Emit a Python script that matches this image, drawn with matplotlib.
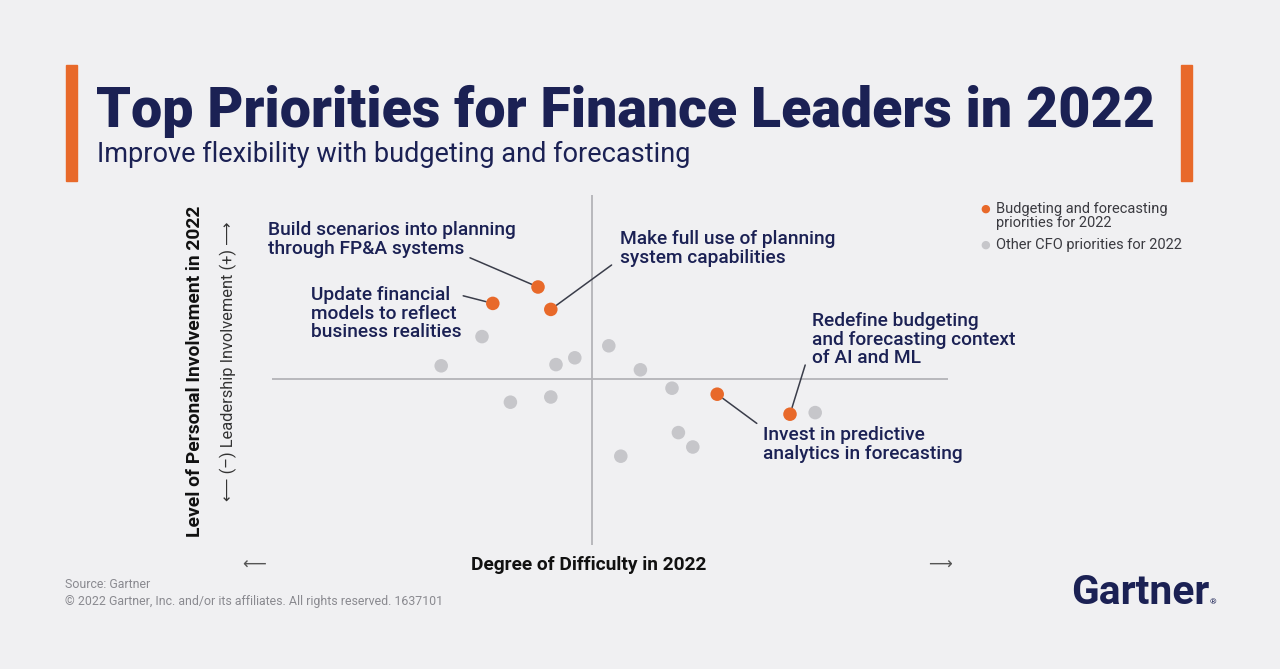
import numpy as np
import matplotlib.pyplot as plt

# --- data (difficulty on x, involvement on y, centre of chart = 0) ---
focus_x = [-1.35, -2.48, -1.03, 3.13, 4.95]
focus_y = [2.30, 1.89, 1.74, -0.38, -0.88]
focus_labels = ["Build scenarios into planning\nthrough FP&A systems",
                "Update financial\nmodels to reflect\nbusiness realities",
                "Make full use of planning\nsystem capabilities",
                "Invest in predictive\nanalytics in forecasting",
                "Redefine budgeting\nand forecasting context\nof AI and ML"]

other_x = [-2.75, -3.77, -0.90, -0.43, 0.42, 1.21, 2.00, -2.04, -1.03, 2.16, 2.52, 0.72, 5.58]
other_y = [1.06, 0.33, 0.36, 0.53, 0.83, 0.23, -0.23, -0.58, -0.45, -1.34, -1.70, -1.93, -0.84]

# label block position (left, middle) and leader line start
label_pos = [(-8.1, 3.48), (-7.03, 1.63), (0.70, 3.26), (4.28, -1.63), (5.50, 0.98)]
line_from = [(-3.05, 3.03), (-3.22, 2.08), (0.49, 2.85), (4.12, -1.11), (5.33, 0.35)]

BG = '#f0f0f2'
NAVY = '#1b2154'
ORANGE = '#e8692a'
GREY = '#c6c6ca'
FONT = ['Roboto', 'DejaVu Sans']

W, H = 1280, 669
def px(x, y):
    return x / W, 1 - y / H

fig = plt.figure(figsize=(12.8, 6.69), dpi=100, facecolor=BG)
ax = fig.add_axes([272 / W, 1 - 545 / H, 676 / W, 350 / H])
ax.set_facecolor(BG)
ax.set_xlim(-8.0, 8.9)
ax.set_ylim(-4.15, 4.6)
ax.axis('off')
ax.axhline(0, color='#b4b4b8', lw=1.3, zorder=1)
ax.axvline(0, color='#b4b4b8', lw=1.3, zorder=1)

ax.scatter(other_x, other_y, s=95, color=GREY, edgecolors='none', zorder=3)
ax.scatter(focus_x, focus_y, s=95, color=ORANGE, edgecolors='none', zorder=4)

for i in range(len(focus_x)):
    ax.annotate('', xy=(focus_x[i], focus_y[i]), xytext=line_from[i],
                arrowprops=dict(arrowstyle='-', color='#3a3d4a', lw=1.1,
                                shrinkA=0, shrinkB=5))
    ax.text(label_pos[i][0], label_pos[i][1], focus_labels[i], ha='left', va='center',
            fontsize=13.8, color=NAVY, family=FONT, fontweight='medium',
            linespacing=1.05, clip_on=False)

# orange side bars
fig.patches.append(plt.Rectangle(px(66, 181), 11 / W, 116 / H, color=ORANGE,
                                 transform=fig.transFigure))
fig.patches.append(plt.Rectangle(px(1181, 181), 11 / W, 116 / H, color=ORANGE,
                                 transform=fig.transFigure))

fig.text(*px(96, 127), "Top Priorities for Finance Leaders in 2022", ha='left',
         va='baseline', fontsize=40, fontweight='black', color=NAVY, family=FONT)
fig.text(*px(97, 162), "Improve flexibility with budgeting and forecasting", ha='left',
         va='baseline', fontsize=19.5, color=NAVY, family=FONT)

# legend
fig.text(*px(985, 209), "\u25CF", color=ORANGE, fontsize=8, ha='center', va='center')
fig.text(*px(996, 216), "Budgeting and forecasting\npriorities for 2022", ha='left',
         va='center', fontsize=10.5, color='#3a3a40', family=FONT, linespacing=1.0)
fig.text(*px(985, 245), "\u25CF", color=GREY, fontsize=8, ha='center', va='center')
fig.text(*px(996, 245), "Other CFO priorities for 2022", ha='left', va='center',
         fontsize=10.5, color='#3a3a40', family=FONT)

# axis titles
fig.text(*px(195, 371), "Level of Personal Involvement in 2022", rotation=90,
         ha='center', va='center', fontsize=13.9, fontweight='bold', color='#111',
         family=FONT)
fig.text(*px(228, 361), "\u27F5 (\u2013) Leadership Involvement (+) \u27F6", rotation=90,
         ha='center', va='center', fontsize=11.8, color='#333', family=FONT)
fig.text(*px(589, 565), "Degree of Difficulty in 2022", ha='center', va='center',
         fontsize=13.8, fontweight='bold', color='#111', family=FONT)
fig.text(*px(254, 565), "\u27F5", ha='center', va='center', fontsize=12, color='#555',
         family=['DejaVu Sans'])
fig.text(*px(940, 565), "\u27F6", ha='center', va='center', fontsize=12, color='#555',
         family=['DejaVu Sans'])

# source
fig.text(*px(65, 585), "Source: Gartner", ha='left', va='center', fontsize=8.9,
         color='#8a8a90', family=FONT)
fig.text(*px(65, 601), "\u00A9 2022 Gartner, Inc. and/or its affiliates. All rights reserved. 1637101",
         ha='left', va='center', fontsize=8.9, color='#8a8a90', family=FONT)

# logo
fig.text(*px(1071, 604), "Gartner", ha='left', va='baseline', fontsize=29.3,
         fontweight='bold', color=NAVY, family=FONT)
fig.text(*px(1210, 604), "\u00AE", ha='left', va='baseline', fontsize=6,
         color=NAVY, family=FONT)

fig.savefig('out.png', dpi=100, facecolor=BG)
